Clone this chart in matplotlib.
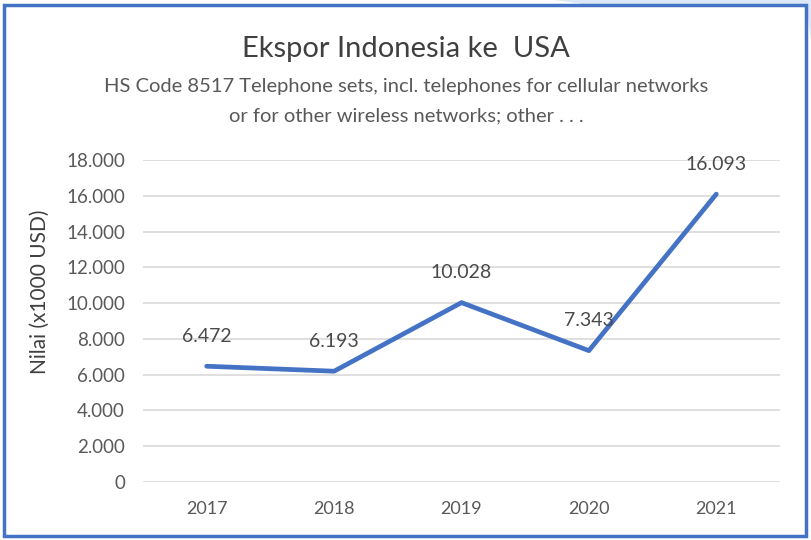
import matplotlib.pyplot as plt
from matplotlib.patches import Rectangle, Polygon

plt.rcParams['font.family'] = ['Lato', 'DejaVu Sans']

years = ['2017', '2018', '2019', '2020', '2021']
nilai = [6472, 6193, 10028, 7343, 16093]
y_ticks = [0, 2000, 4000, 6000, 8000, 10000, 12000, 14000, 16000, 18000]

title = 'Ekspor Indonesia ke  USA'
subtitle = ('HS Code 8517 Telephone sets, incl. telephones for cellular networks\n'
            'or for other wireless networks; other . . .')
ylabel = 'Nilai (x1000 USD)'


def fmt(v):
    return f'{v:,.0f}'.replace(',', '.')


W, H = 811, 540
fig = plt.figure(figsize=(W / 100, H / 100), dpi=100)

# background corner + chart border
fig.patches.append(Polygon([[555 / W, 1], [1, 1], [1, 1 - 40 / H], [806 / W, 1 - 6 / H], [590 / W, 1 - 5 / H]],
                           closed=True, transform=fig.transFigure, facecolor='#DCE8F6', edgecolor='none', zorder=0))
fig.patches.append(Rectangle((4 / W, 4 / H), (806 - 4) / W, (535 - 4) / H, transform=fig.transFigure,
                             facecolor='white', edgecolor='#4472C4', linewidth=2.5, zorder=1))

ax = fig.add_axes([143 / W, 1 - 482 / H, (780 - 143) / W, (482 - 160) / H])
ax.set_facecolor('none')
ax.set_zorder(2)

x = list(range(len(years)))
ax.plot(x, nilai, color='#4472C4', linewidth=3.4, solid_capstyle='round', solid_joinstyle='round', zorder=3)
for xi, v in zip(x, nilai):
    ax.annotate(fmt(v), (xi, v), xytext=(0, 30), textcoords='offset pixels',
                ha='center', va='center', fontsize=14, color='#4a4a4a', zorder=4)

ax.set_xlim(-0.5, len(years) - 0.5)
ax.set_ylim(0, 18000)
ax.set_yticks(y_ticks)
ax.set_yticklabels([fmt(v) for v in y_ticks])
ax.set_xticks(x)
ax.set_xticklabels(years)
ax.grid(axis='y', color='#D9D9D9', linewidth=1.2)
ax.set_axisbelow(True)
for s in ax.spines.values():
    s.set_visible(False)
ax.tick_params(length=0, labelcolor='#595959')
ax.tick_params(axis='y', labelsize=13.5, pad=13)
ax.tick_params(axis='x', labelsize=13, pad=14)

fig.text(40 / W, 1 - 292 / H, ylabel, rotation=90, ha='center', va='center', fontsize=15, color='#404040')
fig.text(406 / W, 1 - 49 / H, title, ha='center', va='center', fontsize=21, color='#404040')
fig.text(406 / W, 1 - 101 / H, subtitle, ha='center', va='center', fontsize=14.5, color='#595959',
         linespacing=1.85)

fig.savefig('out.png', dpi=100)
